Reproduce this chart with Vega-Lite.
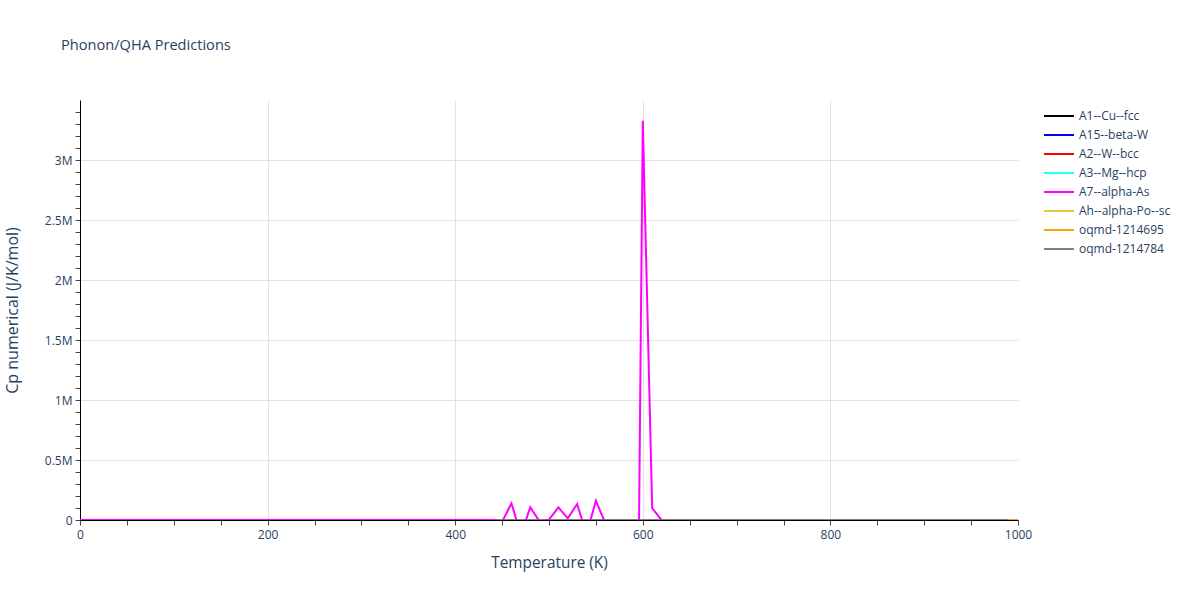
{
  "$schema": "https://vega.github.io/schema/vega-lite/v6.json",
  "autosize": {"type": "none"},
  "padding": {"left": 80, "top": 100, "right": 182, "bottom": 80},
  "width": 938,
  "height": 420,
  "background": "white",
  "config": {
    "font": "Open Sans",
    "view": {"stroke": null},
    "axis": {"labelColor": "#2a3f5f", "titleColor": "#2a3f5f", "labelFontSize": 12, "titleFontSize": 15, "titleFontWeight": "normal", "domainColor": "#000000", "tickColor": "#444444", "tickSize": 5, "gridColor": "#e2e2e2"},
    "legend": {"labelColor": "#2a3f5f", "labelFontSize": 12}
  },
  "title": {"text": "Phonon/QHA Predictions", "anchor": "start", "frame": "group", "fontSize": 14.6, "fontWeight": "normal", "color": "#2a3f5f", "dx": -19, "offset": 47},
  "data": {"values": [
    {"T": 0, "Cp": 0, "material": "A1--Cu--fcc"}, {"T": 50, "Cp": 5.5, "material": "A1--Cu--fcc"}, {"T": 100, "Cp": 16.0, "material": "A1--Cu--fcc"}, {"T": 150, "Cp": 20.6, "material": "A1--Cu--fcc"}, {"T": 200, "Cp": 22.6, "material": "A1--Cu--fcc"}, {"T": 250, "Cp": 23.6, "material": "A1--Cu--fcc"}, {"T": 300, "Cp": 24.2, "material": "A1--Cu--fcc"}, {"T": 350, "Cp": 24.6, "material": "A1--Cu--fcc"}, {"T": 400, "Cp": 24.9, "material": "A1--Cu--fcc"}, {"T": 450, "Cp": 25.1, "material": "A1--Cu--fcc"}, {"T": 500, "Cp": 25.3, "material": "A1--Cu--fcc"}, {"T": 550, "Cp": 25.5, "material": "A1--Cu--fcc"}, {"T": 600, "Cp": 25.7, "material": "A1--Cu--fcc"}, {"T": 650, "Cp": 25.9, "material": "A1--Cu--fcc"}, {"T": 700, "Cp": 26.1, "material": "A1--Cu--fcc"}, {"T": 750, "Cp": 26.3, "material": "A1--Cu--fcc"}, {"T": 800, "Cp": 26.5, "material": "A1--Cu--fcc"}, {"T": 850, "Cp": 26.8, "material": "A1--Cu--fcc"}, {"T": 900, "Cp": 27.0, "material": "A1--Cu--fcc"}, {"T": 950, "Cp": 27.3, "material": "A1--Cu--fcc"}, {"T": 1000, "Cp": 27.6, "material": "A1--Cu--fcc"},
    {"T": 0, "Cp": 0, "material": "A15--beta-W"}, {"T": 50, "Cp": 4.8, "material": "A15--beta-W"}, {"T": 100, "Cp": 14.9, "material": "A15--beta-W"}, {"T": 150, "Cp": 19.9, "material": "A15--beta-W"}, {"T": 200, "Cp": 22.1, "material": "A15--beta-W"}, {"T": 250, "Cp": 23.3, "material": "A15--beta-W"}, {"T": 300, "Cp": 23.9, "material": "A15--beta-W"}, {"T": 350, "Cp": 24.3, "material": "A15--beta-W"}, {"T": 400, "Cp": 24.6, "material": "A15--beta-W"}, {"T": 450, "Cp": 24.8, "material": "A15--beta-W"}, {"T": 500, "Cp": 25.0, "material": "A15--beta-W"}, {"T": 550, "Cp": 25.2, "material": "A15--beta-W"}, {"T": 600, "Cp": 25.4, "material": "A15--beta-W"}, {"T": 650, "Cp": 25.6, "material": "A15--beta-W"}, {"T": 700, "Cp": 25.8, "material": "A15--beta-W"}, {"T": 750, "Cp": 26.0, "material": "A15--beta-W"}, {"T": 800, "Cp": 26.2, "material": "A15--beta-W"}, {"T": 850, "Cp": 26.4, "material": "A15--beta-W"}, {"T": 900, "Cp": 26.6, "material": "A15--beta-W"}, {"T": 950, "Cp": 26.8, "material": "A15--beta-W"}, {"T": 1000, "Cp": 27.0, "material": "A15--beta-W"},
    {"T": 0, "Cp": 0, "material": "A2--W--bcc"}, {"T": 50, "Cp": 3.9, "material": "A2--W--bcc"}, {"T": 100, "Cp": 13.5, "material": "A2--W--bcc"}, {"T": 150, "Cp": 19.0, "material": "A2--W--bcc"}, {"T": 200, "Cp": 21.6, "material": "A2--W--bcc"}, {"T": 250, "Cp": 22.9, "material": "A2--W--bcc"}, {"T": 300, "Cp": 23.6, "material": "A2--W--bcc"}, {"T": 350, "Cp": 24.1, "material": "A2--W--bcc"}, {"T": 400, "Cp": 24.4, "material": "A2--W--bcc"}, {"T": 450, "Cp": 24.6, "material": "A2--W--bcc"}, {"T": 500, "Cp": 24.8, "material": "A2--W--bcc"}, {"T": 550, "Cp": 25.0, "material": "A2--W--bcc"}, {"T": 600, "Cp": 25.2, "material": "A2--W--bcc"}, {"T": 650, "Cp": 25.4, "material": "A2--W--bcc"}, {"T": 700, "Cp": 25.5, "material": "A2--W--bcc"}, {"T": 750, "Cp": 25.7, "material": "A2--W--bcc"}, {"T": 800, "Cp": 25.9, "material": "A2--W--bcc"}, {"T": 850, "Cp": 26.0, "material": "A2--W--bcc"}, {"T": 900, "Cp": 26.2, "material": "A2--W--bcc"}, {"T": 950, "Cp": 26.4, "material": "A2--W--bcc"}, {"T": 1000, "Cp": 26.6, "material": "A2--W--bcc"},
    {"T": 0, "Cp": 0, "material": "A3--Mg--hcp"}, {"T": 50, "Cp": 6.8, "material": "A3--Mg--hcp"}, {"T": 100, "Cp": 17.0, "material": "A3--Mg--hcp"}, {"T": 150, "Cp": 21.1, "material": "A3--Mg--hcp"}, {"T": 200, "Cp": 22.9, "material": "A3--Mg--hcp"}, {"T": 250, "Cp": 23.8, "material": "A3--Mg--hcp"}, {"T": 300, "Cp": 24.4, "material": "A3--Mg--hcp"}, {"T": 350, "Cp": 24.8, "material": "A3--Mg--hcp"}, {"T": 400, "Cp": 25.1, "material": "A3--Mg--hcp"}, {"T": 450, "Cp": 25.4, "material": "A3--Mg--hcp"}, {"T": 500, "Cp": 25.7, "material": "A3--Mg--hcp"}, {"T": 550, "Cp": 26.0, "material": "A3--Mg--hcp"}, {"T": 600, "Cp": 26.3, "material": "A3--Mg--hcp"}, {"T": 650, "Cp": 26.6, "material": "A3--Mg--hcp"}, {"T": 700, "Cp": 26.9, "material": "A3--Mg--hcp"}, {"T": 750, "Cp": 27.2, "material": "A3--Mg--hcp"}, {"T": 800, "Cp": 27.5, "material": "A3--Mg--hcp"}, {"T": 850, "Cp": 27.9, "material": "A3--Mg--hcp"}, {"T": 900, "Cp": 28.3, "material": "A3--Mg--hcp"}, {"T": 950, "Cp": 28.7, "material": "A3--Mg--hcp"}, {"T": 1000, "Cp": 29.2, "material": "A3--Mg--hcp"},
    {"T": 0, "Cp": 0, "material": "Ah--alpha-Po--sc"}, {"T": 50, "Cp": 12.5, "material": "Ah--alpha-Po--sc"}, {"T": 100, "Cp": 20.5, "material": "Ah--alpha-Po--sc"}, {"T": 150, "Cp": 22.9, "material": "Ah--alpha-Po--sc"}, {"T": 200, "Cp": 23.9, "material": "Ah--alpha-Po--sc"}, {"T": 250, "Cp": 24.4, "material": "Ah--alpha-Po--sc"}, {"T": 300, "Cp": 24.8, "material": "Ah--alpha-Po--sc"}, {"T": 350, "Cp": 25.1, "material": "Ah--alpha-Po--sc"}, {"T": 400, "Cp": 25.4, "material": "Ah--alpha-Po--sc"}, {"T": 450, "Cp": 25.7, "material": "Ah--alpha-Po--sc"}, {"T": 500, "Cp": 26.0, "material": "Ah--alpha-Po--sc"}, {"T": 550, "Cp": 26.3, "material": "Ah--alpha-Po--sc"}, {"T": 600, "Cp": 26.6, "material": "Ah--alpha-Po--sc"}, {"T": 650, "Cp": 27.0, "material": "Ah--alpha-Po--sc"}, {"T": 700, "Cp": 27.4, "material": "Ah--alpha-Po--sc"}, {"T": 750, "Cp": 27.8, "material": "Ah--alpha-Po--sc"}, {"T": 800, "Cp": 28.2, "material": "Ah--alpha-Po--sc"}, {"T": 850, "Cp": 28.7, "material": "Ah--alpha-Po--sc"}, {"T": 900, "Cp": 29.2, "material": "Ah--alpha-Po--sc"}, {"T": 950, "Cp": 29.8, "material": "Ah--alpha-Po--sc"}, {"T": 1000, "Cp": 30.4, "material": "Ah--alpha-Po--sc"},
    {"T": 0, "Cp": 0, "material": "oqmd-1214695"}, {"T": 50, "Cp": 9.0, "material": "oqmd-1214695"}, {"T": 100, "Cp": 18.5, "material": "oqmd-1214695"}, {"T": 150, "Cp": 21.8, "material": "oqmd-1214695"}, {"T": 200, "Cp": 23.2, "material": "oqmd-1214695"}, {"T": 250, "Cp": 23.9, "material": "oqmd-1214695"}, {"T": 300, "Cp": 24.4, "material": "oqmd-1214695"}, {"T": 350, "Cp": 24.7, "material": "oqmd-1214695"}, {"T": 400, "Cp": 24.9, "material": "oqmd-1214695"}, {"T": 450, "Cp": 25.1, "material": "oqmd-1214695"}, {"T": 500, "Cp": 25.3, "material": "oqmd-1214695"}, {"T": 550, "Cp": 25.5, "material": "oqmd-1214695"}, {"T": 600, "Cp": 25.7, "material": "oqmd-1214695"}, {"T": 650, "Cp": 25.9, "material": "oqmd-1214695"}, {"T": 700, "Cp": 26.1, "material": "oqmd-1214695"}, {"T": 750, "Cp": 26.3, "material": "oqmd-1214695"}, {"T": 800, "Cp": 26.5, "material": "oqmd-1214695"}, {"T": 850, "Cp": 26.7, "material": "oqmd-1214695"}, {"T": 900, "Cp": 26.9, "material": "oqmd-1214695"}, {"T": 950, "Cp": 27.1, "material": "oqmd-1214695"}, {"T": 1000, "Cp": 27.3, "material": "oqmd-1214695"},
    {"T": 0, "Cp": 0, "material": "oqmd-1214784"}, {"T": 50, "Cp": 8.2, "material": "oqmd-1214784"}, {"T": 100, "Cp": 17.9, "material": "oqmd-1214784"}, {"T": 150, "Cp": 21.5, "material": "oqmd-1214784"}, {"T": 200, "Cp": 23.0, "material": "oqmd-1214784"}, {"T": 250, "Cp": 23.8, "material": "oqmd-1214784"}, {"T": 300, "Cp": 24.3, "material": "oqmd-1214784"}, {"T": 350, "Cp": 24.6, "material": "oqmd-1214784"}, {"T": 400, "Cp": 24.8, "material": "oqmd-1214784"}, {"T": 450, "Cp": 25.0, "material": "oqmd-1214784"}, {"T": 500, "Cp": 25.2, "material": "oqmd-1214784"}, {"T": 550, "Cp": 25.4, "material": "oqmd-1214784"}, {"T": 600, "Cp": 25.6, "material": "oqmd-1214784"}, {"T": 650, "Cp": 25.8, "material": "oqmd-1214784"}, {"T": 700, "Cp": 26.0, "material": "oqmd-1214784"}, {"T": 750, "Cp": 26.2, "material": "oqmd-1214784"}, {"T": 800, "Cp": 26.4, "material": "oqmd-1214784"}, {"T": 850, "Cp": 26.6, "material": "oqmd-1214784"}, {"T": 900, "Cp": 26.8, "material": "oqmd-1214784"}, {"T": 950, "Cp": 27.0, "material": "oqmd-1214784"}, {"T": 990, "Cp": 27.2, "material": "oqmd-1214784"},
    {"T": 0, "Cp": 0, "material": "A7--alpha-As"}, {"T": 10, "Cp": 0.6, "material": "A7--alpha-As"}, {"T": 20, "Cp": 3.1, "material": "A7--alpha-As"}, {"T": 30, "Cp": 6.9, "material": "A7--alpha-As"}, {"T": 40, "Cp": 10.4, "material": "A7--alpha-As"}, {"T": 50, "Cp": 13.3, "material": "A7--alpha-As"}, {"T": 60, "Cp": 15.6, "material": "A7--alpha-As"}, {"T": 70, "Cp": 17.3, "material": "A7--alpha-As"}, {"T": 80, "Cp": 18.6, "material": "A7--alpha-As"}, {"T": 90, "Cp": 19.6, "material": "A7--alpha-As"}, {"T": 100, "Cp": 20.4, "material": "A7--alpha-As"}, {"T": 110, "Cp": 21.0, "material": "A7--alpha-As"}, {"T": 120, "Cp": 21.5, "material": "A7--alpha-As"}, {"T": 130, "Cp": 21.9, "material": "A7--alpha-As"}, {"T": 140, "Cp": 22.3, "material": "A7--alpha-As"}, {"T": 150, "Cp": 22.6, "material": "A7--alpha-As"}, {"T": 160, "Cp": 22.8, "material": "A7--alpha-As"}, {"T": 170, "Cp": 23.0, "material": "A7--alpha-As"}, {"T": 180, "Cp": 23.2, "material": "A7--alpha-As"}, {"T": 190, "Cp": 23.4, "material": "A7--alpha-As"}, {"T": 200, "Cp": 23.5, "material": "A7--alpha-As"}, {"T": 210, "Cp": 23.6, "material": "A7--alpha-As"}, {"T": 220, "Cp": 23.7, "material": "A7--alpha-As"}, {"T": 230, "Cp": 23.8, "material": "A7--alpha-As"}, {"T": 240, "Cp": 23.9, "material": "A7--alpha-As"}, {"T": 250, "Cp": 24.0, "material": "A7--alpha-As"}, {"T": 260, "Cp": 24.1, "material": "A7--alpha-As"}, {"T": 270, "Cp": 24.2, "material": "A7--alpha-As"}, {"T": 280, "Cp": 24.3, "material": "A7--alpha-As"}, {"T": 290, "Cp": 24.4, "material": "A7--alpha-As"}, {"T": 300, "Cp": 24.5, "material": "A7--alpha-As"}, {"T": 310, "Cp": 24.6, "material": "A7--alpha-As"}, {"T": 320, "Cp": 24.8, "material": "A7--alpha-As"}, {"T": 330, "Cp": 25.0, "material": "A7--alpha-As"}, {"T": 340, "Cp": 25.3, "material": "A7--alpha-As"}, {"T": 350, "Cp": 25.7, "material": "A7--alpha-As"}, {"T": 360, "Cp": 26.3, "material": "A7--alpha-As"}, {"T": 370, "Cp": 27.2, "material": "A7--alpha-As"}, {"T": 380, "Cp": 28.6, "material": "A7--alpha-As"}, {"T": 390, "Cp": 31.0, "material": "A7--alpha-As"}, {"T": 400, "Cp": 35.5, "material": "A7--alpha-As"}, {"T": 410, "Cp": 45.0, "material": "A7--alpha-As"}, {"T": 420, "Cp": 70.0, "material": "A7--alpha-As"}, {"T": 430, "Cp": 160.0, "material": "A7--alpha-As"}, {"T": 440, "Cp": 600.0, "material": "A7--alpha-As"}, {"T": 450, "Cp": -15000, "material": "A7--alpha-As"}, {"T": 460, "Cp": 139000, "material": "A7--alpha-As"}, {"T": 470, "Cp": -125000, "material": "A7--alpha-As"}, {"T": 480, "Cp": 106000, "material": "A7--alpha-As"}, {"T": 490, "Cp": -12000, "material": "A7--alpha-As"}, {"T": 500, "Cp": 3000, "material": "A7--alpha-As"}, {"T": 510, "Cp": 105000, "material": "A7--alpha-As"}, {"T": 520, "Cp": 14000, "material": "A7--alpha-As"}, {"T": 530, "Cp": 133000, "material": "A7--alpha-As"}, {"T": 540, "Cp": -120000, "material": "A7--alpha-As"}, {"T": 550, "Cp": 161000, "material": "A7--alpha-As"}, {"T": 560, "Cp": -26000, "material": "A7--alpha-As"}, {"T": 570, "Cp": -60000, "material": "A7--alpha-As"}, {"T": 580, "Cp": -90000, "material": "A7--alpha-As"}, {"T": 590, "Cp": -4980000, "material": "A7--alpha-As"}, {"T": 600, "Cp": 3327000, "material": "A7--alpha-As"}, {"T": 610, "Cp": 98000, "material": "A7--alpha-As"}, {"T": 620, "Cp": 30, "material": "A7--alpha-As"}
  ]},
  "encoding": {
    "x": {"field": "T", "type": "quantitative", "title": "Temperature (K)",
      "scale": {"domain": [0, 1000], "nice": false, "zero": false},
      "axis": {"values": [0, 50, 100, 150, 200, 250, 300, 350, 400, 450, 500, 550, 600, 650, 700, 750, 800, 850, 900, 950, 1000],
        "format": "d",
        "labelExpr": "datum.value % 200 === 0 ? datum.label : ''",
        "gridOpacity": {"condition": {"test": "datum.value % 200 === 0 && datum.value > 0 && datum.value < 1000", "value": 1}, "value": 0},
        "labelPadding": 4, "titlePadding": 15, "titleFontSize": 15.4, "labelFlush": false}},
    "y": {"field": "Cp", "type": "quantitative", "title": "Cp numerical (J/K/mol)",
      "scale": {"domain": [0, 3500000], "nice": false, "zero": false},
      "axis": {"values": [0, 100000, 200000, 300000, 400000, 500000, 600000, 700000, 800000, 900000, 1000000, 1100000, 1200000, 1300000, 1400000, 1500000, 1600000, 1700000, 1800000, 1900000, 2000000, 2100000, 2200000, 2300000, 2400000, 2500000, 2600000, 2700000, 2800000, 2900000, 3000000, 3100000, 3200000, 3300000, 3400000],
        "labelExpr": "datum.value === 0 ? '0' : (datum.value % 500000 === 0 ? format(datum.value / 1000000, '~g') + 'M' : '')",
        "gridOpacity": {"condition": {"test": "datum.value % 500000 === 0 && datum.value > 0", "value": 1}, "value": 0},
        "labelPadding": 3, "titlePadding": 24, "titleFontSize": 16, "labelFlush": false}},
    "color": {"field": "material", "type": "nominal", "title": null,
      "scale": {"domain": ["A1--Cu--fcc", "A15--beta-W", "A2--W--bcc", "A3--Mg--hcp", "A7--alpha-As", "Ah--alpha-Po--sc", "oqmd-1214695", "oqmd-1214784"],
        "range": ["#000000", "#0000ff", "#ff0000", "#22ffff", "#ff00ff", "#ecc43e", "#ffa500", "#808080"]},
      "legend": {"orient": "none", "legendX": 963, "legendY": 10, "symbolType": "M-1,0H5", "symbolSize": 100, "symbolStrokeWidth": 2, "rowPadding": 7, "labelOffset": 24, "padding": 0}}
  },
  "layer": [
    {"transform": [{"filter": "datum.material !== 'A7--alpha-As'"}], "mark": {"type": "line", "strokeWidth": 2, "clip": true}},
    {"transform": [{"filter": "datum.material === 'A7--alpha-As'"}], "mark": {"type": "line", "strokeWidth": 2, "clip": true}}
  ]
}
